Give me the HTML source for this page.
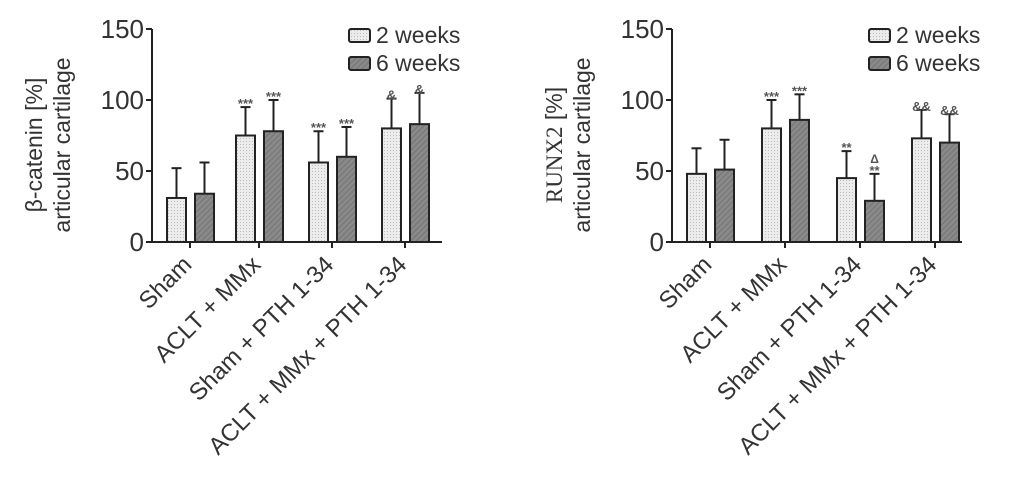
<!DOCTYPE html>
<html><head><meta charset="utf-8">
<style>
body{margin:0;background:#fff;}
svg{display:block;font-family:"Liberation Sans",sans-serif;}
</style></head>
<body>
<svg id="c" width="1015" height="493" viewBox="0 0 1015 493">
<defs>
<pattern id="dots" width="3" height="3" patternUnits="userSpaceOnUse"><rect width="3" height="3" fill="#ececec"/><rect width="1" height="1" fill="#bbb"/></pattern>
<pattern id="hatch" width="4" height="4" patternUnits="userSpaceOnUse" patternTransform="rotate(45)"><rect width="4" height="4" fill="#8a8a8a"/><rect width="1.5" height="4" fill="#7a7a7a"/></pattern>
</defs>
</svg>
<script>
const categories=["Sham","ACLT + MMx","Sham + PTH 1-34","ACLT + MMx + PTH 1-34"];
const yTicks=[0,50,100,150];
const betaW2=[31,75,56,80];
const betaW6=[34,78,60,83];
const betaErr2=[52,95,78,101];
const betaErr6=[56,100,81,105];
const betaSig2=["","***","***","&"];
const betaSig6=["","***","***","&"];
const runxW2=[48,80,45,73];
const runxW6=[51,86,29,70];
const runxErr2=[66,100,64,93];
const runxErr6=[72,104,48,90];
const runxSig2=["","***","**","&&"];
const runxSig6=["","***","**|Δ","&&"];

const NS="http://www.w3.org/2000/svg";
const svg=document.getElementById('c');
function mk(t,a,p){const e=document.createElementNS(NS,t);for(const k in a)e.setAttribute(k,a[k]);(p||svg).appendChild(e);return e;}

function chart(ox,name,yl1,yl2,serif,w2,w6,e2,e6,s2,s6,ticks){
  const g=mk('g',{});
  
  
  const y0=242,y150=29,axEnd=ox+290;
  const Y=v=>y0-(v/150)*(y0-y150);
  const ya=mk('line',{x1:ox,y1:Y(150),x2:ox,y2:y0,stroke:'#222','stroke-width':2},g);
  
  
  const xa=mk('line',{x1:ox,y1:y0,x2:axEnd,y2:y0,stroke:'#222','stroke-width':2},g);
  
  
  yTicks.forEach(v=>{
    mk('line',{x1:ox-6,y1:Y(v),x2:ox,y2:Y(v),stroke:'#222','stroke-width':2},g);
    const t=mk('text',{x:ox-8,y:Y(v)+9,'text-anchor':'end','font-size':26,fill:'#333'},g);
    t.textContent=v;
    
    
  });
  const yl=mk('text',{transform:`translate(${ox-110},145) rotate(-90)`,'text-anchor':'middle','font-size':23,fill:'#333'},g);
  
  
  const t1=mk('tspan',{x:0,y:0},yl);
  if(serif){const a=mk('tspan',{'font-family':'Liberation Serif'},t1);a.textContent=yl1;const b=mk('tspan',{},t1);b.textContent='  [%]';}
  else t1.textContent=yl1;
  const t2=mk('tspan',{x:0,y:28},yl);t2.textContent=yl2;
  const bw=19;
  categories.forEach((c,i)=>{
    const cx=ticks[i];
    mk('line',{x1:cx,y1:y0,x2:cx,y2:y0+6,stroke:'#222','stroke-width':2},g);
    [[w2[i],e2[i],s2[i],cx-23,'url(#dots)','bar-2-weeks'],[w6[i],e6[i],s6[i],cx+5,'url(#hatch)','bar-6-weeks']].forEach(([v,e,s,x,f,n])=>{
      const bx=x+bw/2;
      mk('line',{x1:bx,y1:Y(v),x2:bx,y2:Y(e),stroke:'#222','stroke-width':2},g);
      mk('line',{x1:bx-5,y1:Y(e),x2:bx+5,y2:Y(e),stroke:'#222','stroke-width':2},g);
      const r=mk('rect',{x:x,y:Y(v),width:bw,height:y0-Y(v),fill:f,stroke:'#222','stroke-width':2},g);
      
      
      if(s){
        const parts=s.split('|');
        parts.forEach((p,k)=>{
          const st=mk('text',{x:bx,y:Y(e)+1-k*12,'text-anchor':'middle','font-size':p==='Δ'?12:13,'font-weight':'bold',fill:'#555'},g);
          st.textContent=p;
          
          
        });
      }
    });
    const lt=mk('text',{transform:`translate(${cx+3},${y0+24}) rotate(-45)`,'text-anchor':'end','font-size':24,fill:'#333'},g);
    lt.textContent=c;
    
    
  });
  const lx=ox+197;
  [['2 weeks','url(#dots)',29],['6 weeks','url(#hatch)',57]].forEach(([l,f,y])=>{
    const lg=mk('g',{},g);
    
    
    mk('rect',{x:lx,y:y,width:21,height:13,rx:2,fill:f,stroke:'#222','stroke-width':2},lg);
    const lt=mk('text',{x:lx+27,y:y+14,'font-size':23,fill:'#333'},lg);
    lt.textContent=l;
  });
}
chart(152,'beta-catenin-chart','β-catenin [%]','articular cartilage',false,betaW2,betaW6,betaErr2,betaErr6,betaSig2,betaSig6,[190,259,332,405]);
chart(672,'runx2-chart','RUNX2','articular cartilage',true,runxW2,runxW6,runxErr2,runxErr6,runxSig2,runxSig6,[710,785,860,935]);
</script>
</body></html>
